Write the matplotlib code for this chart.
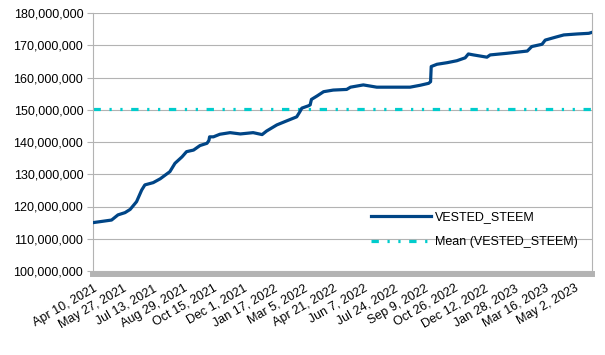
import pandas as pd
import matplotlib
matplotlib.use("Agg")
import matplotlib.pyplot as plt

# Dados (VESTED_STEEM, em milhões)
datas = ["2021-04-10", "2021-04-21", "2021-05-09", "2021-05-19", "2021-05-30",
         "2021-06-07", "2021-06-17", "2021-06-25", "2021-06-30", "2021-07-13",
         "2021-07-24", "2021-08-08", "2021-08-16", "2021-08-27", "2021-09-03",
         "2021-09-14", "2021-09-24", "2021-10-05", "2021-10-08", "2021-10-09",
         "2021-10-15", "2021-10-25", "2021-11-10", "2021-11-26", "2021-12-16",
         "2021-12-30", "2022-01-06", "2022-01-22", "2022-02-07", "2022-02-22",
         "2022-02-27", "2022-03-02", "2022-03-12", "2022-03-15", "2022-03-17",
         "2022-03-26", "2022-04-05", "2022-04-20", "2022-05-11", "2022-05-17",
         "2022-06-06", "2022-06-27", "2022-07-23", "2022-08-18", "2022-09-03",
         "2022-09-16", "2022-09-19", "2022-09-20", "2022-09-29", "2022-10-15",
         "2022-10-30", "2022-11-12", "2022-11-17", "2022-11-25", "2022-12-16",
         "2022-12-21", "2023-01-16", "2023-02-17", "2023-02-24", "2023-03-12",
         "2023-03-17", "2023-04-02", "2023-04-15", "2023-05-06", "2023-05-24",
         "2023-05-29"]
vested = [115.0, 115.3, 115.8, 117.4, 118.1,
          119.1, 121.5, 125.1, 126.7, 127.4,
          128.6, 130.8, 133.4, 135.4, 137.0,
          137.5, 138.9, 139.6, 140.5, 141.6,
          141.6, 142.4, 142.9, 142.5, 142.9,
          142.3, 143.4, 145.3, 146.6, 147.8,
          149.4, 150.5, 151.2, 151.5, 153.2,
          154.3, 155.6, 156.1, 156.3, 157.0,
          157.7, 157.0, 157.0, 157.0, 157.6,
          158.2, 158.7, 163.4, 164.1, 164.6,
          165.2, 166.1, 167.3, 167.0, 166.3,
          167.0, 167.5, 168.2, 169.6, 170.3,
          171.6, 172.5, 173.2, 173.5, 173.7,
          174.0]
media = 150.1

datas = pd.to_datetime(datas)
valores = [v * 1e6 for v in vested]

plt.rcParams["font.family"] = ["Liberation Sans", "DejaVu Sans"]
plt.rcParams["font.size"] = 9

fig = plt.figure(figsize=(6.05, 3.55), dpi=100)
ax = fig.add_axes([93 / 605, 1 - 271 / 355, (592 - 93) / 605, (271 - 13) / 355])

cinza = "#b3b3b3"
ax.plot(datas, valores, color="#004586", lw=2.3, label="VESTED_STEEM", zorder=3)
ax.axhline(media * 1e6, color="#00cccc", lw=2.3, solid_capstyle="butt",
           dash_capstyle="butt", linestyle=(0, (2.3, 2.7, 0.7, 2.7, 0.7, 2.7)),
           label="Mean (VESTED_STEEM)", zorder=2)

ax.set_ylim(100e6, 180e6)
ax.set_yticks([100e6 + i * 10e6 for i in range(9)])
ax.yaxis.set_major_formatter(matplotlib.ticker.FuncFormatter(lambda v, p: f"{v:,.0f}"))
ax.tick_params(axis="y", length=4.5, color=cinza, pad=2.5)
ax.tick_params(axis="x", length=0, pad=6)

inicio = pd.Timestamp("2021-04-10")
ax.set_xlim(inicio, pd.Timestamp("2023-05-29"))
ticks = [inicio + pd.Timedelta(days=47 * i) for i in range(17)]
ax.set_xticks(ticks)
ax.set_xticklabels([t.strftime("%b ") + str(t.day) + t.strftime(", %Y") for t in ticks])

ax.grid(axis="y", color=cinza, lw=0.8)
ax.set_axisbelow(True)
for lado in ["left", "right", "top"]:
    ax.spines[lado].set_color(cinza)
    ax.spines[lado].set_linewidth(0.8)
ax.spines["top"].set_visible(False)
ax.spines["bottom"].set_color(cinza)
ax.spines["bottom"].set_linewidth(4.3)
ax.spines["bottom"].set_position(("outward", 2.2))

ax.legend(loc="upper left", bbox_to_anchor=(365 / 605, 1 - 205 / 355),
          bbox_transform=fig.transFigure, frameon=False, borderpad=0,
          handlelength=4.8, handletextpad=0.3, labelspacing=1.05, fontsize=9)

plt.setp(ax.get_xticklabels(), rotation=30, ha="right", va="top",
         rotation_mode="anchor")

fig.savefig("out.png", dpi=100)
